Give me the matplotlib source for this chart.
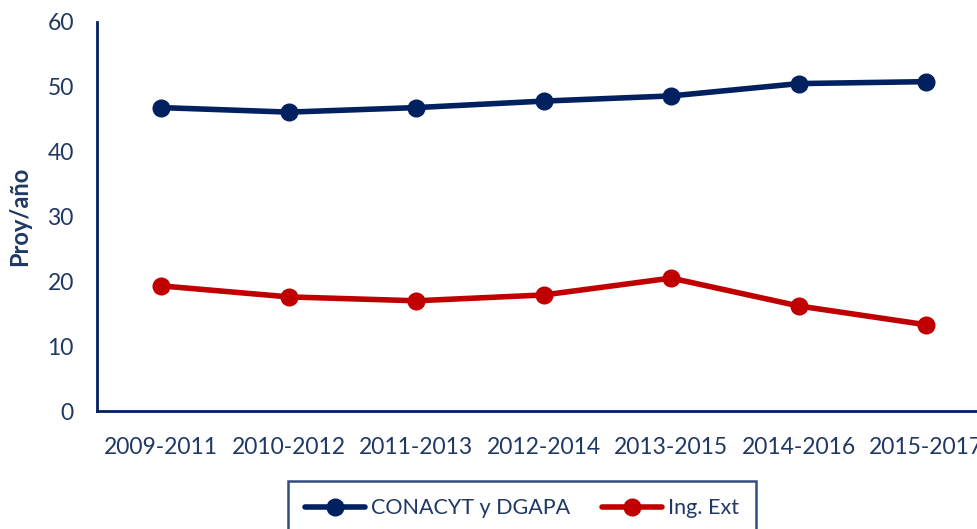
import matplotlib.pyplot as plt

periods = ['2009-2011', '2010-2012', '2011-2013', '2012-2014',
           '2013-2015', '2014-2016', '2015-2017']
conacyt = [46.8, 46.1, 46.8, 47.8, 48.6, 50.5, 50.8]
ing_ext = [19.3, 17.6, 17.0, 17.9, 20.5, 16.2, 13.3]

navy = '#002060'
red = '#C00000'
txt = '#1F3864'

plt.rcParams['font.family'] = ['Lato', 'DejaVu Sans']

fig = plt.figure(figsize=(9.78, 5.29), dpi=100)
# plot area runs a bit past the right edge, like the cropped original
ax = fig.add_axes([97.5 / 978, 1 - 411 / 529, 892.5 / 978, 389 / 529])

x = [i + 0.5 for i in range(len(periods))]
ax.plot(x, conacyt, color=navy, lw=4, marker='o', ms=12,
        label='CONACYT y DGAPA', solid_capstyle='round')
ax.plot(x, ing_ext, color=red, lw=4, marker='o', ms=12,
        label='Ing. Ext', solid_capstyle='round')

ax.set_xlim(0, 7)
ax.set_ylim(0, 60)
ax.set_yticks(range(0, 61, 10))
ax.set_xticks(x)
ax.set_xticklabels(periods)
ax.tick_params(axis='both', length=0, labelsize=16.5, colors=txt)
ax.tick_params(axis='y', pad=17)
ax.tick_params(axis='x', pad=19)
ax.set_ylabel('Proy/año', fontsize=17, fontweight='bold', color=txt, labelpad=12)

for s in ['top', 'right']:
    ax.spines[s].set_visible(False)
for s in ['left', 'bottom']:
    ax.spines[s].set_color(navy)
    ax.spines[s].set_linewidth(2)

leg = fig.legend(loc='upper center', bbox_to_anchor=(522 / 978, 1 - 481 / 529),
                 ncol=2, frameon=True, fancybox=False, fontsize=15.5,
                 handlelength=2.8, columnspacing=1.5, borderpad=0.8,
                 handletextpad=0.25, borderaxespad=0)
leg.get_frame().set_edgecolor(navy)
leg.get_frame().set_linewidth(1.8)
for t in leg.get_texts():
    t.set_color(txt)

fig.savefig('out.png', dpi=100)
